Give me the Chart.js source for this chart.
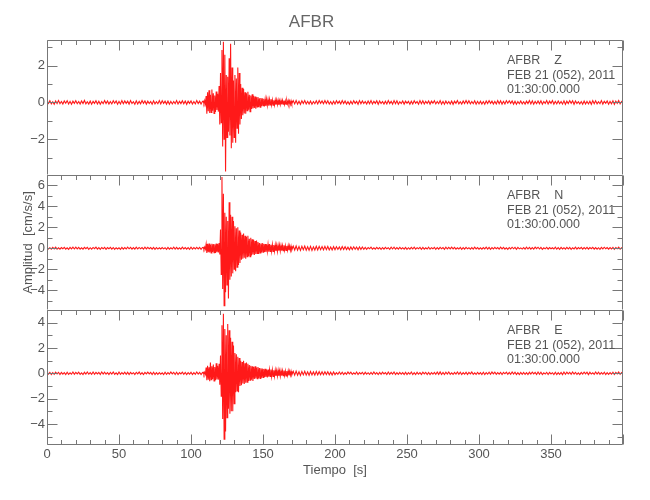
<!DOCTYPE html>
<html>
<head>
<meta charset="utf-8">
<script src="https://cdn.jsdelivr.net/npm/chart.js@4/dist/chart.umd.min.js"></script>
<style>
  body { margin: 0; background: #fff; }
  #wrap { position: relative; width: 650px; height: 500px; }
  .panel { position: absolute; left: 0; width: 650px; }
</style>
</head>
<body>
<div id="wrap">
  <div class="panel" style="top:0;height:175px"><canvas id="chartZ"></canvas></div>
  <div class="panel" style="top:175px;height:135px"><canvas id="chartN"></canvas></div>
  <div class="panel" style="top:310px;height:190px"><canvas id="chartE"></canvas></div>
</div>
<script>
//Station data
const estacion = "AFBR";
const fecha = "FEB 21 (052), 2011";
const hora = "01:30:00.000";
const componentes = ["Z", "N", "E"];

//Sampling of the traces [start, step] in seconds: quiet part, main burst, coda
const tPre = [0, 1];
const tBurst = [108.5, 0.5];
const tCoda = [171, 1];

//x ticks
const xMin = 0, xMax = 400, xStep = 10, xLabelEvery = 50;

//y limits per component
const limZ = [-3.95, 3.4];
const limN = [-5.9, 7.0];
const limE = [-5.66, 5.0];

//Z component
const zPre = [
  0.07,-0.05,0.09,-0.08,0.04,-0.1,0.08,-0.06,0.1,-0.07,
  0.05,-0.09,0.08,-0.04,0.1,-0.08,0.06,-0.1,0.07,-0.05,
  0.09,-0.07,0.05,-0.09,0.08,-0.06,0.11,-0.08,0.04,-0.09,
  0.08,-0.1,0.06,-0.05,0.09,-0.08,0.07,-0.1,0.05,-0.07,
  0.1,-0.06,0.08,-0.09,0.05,-0.08,0.09,-0.04,0.08,-0.1,
  0.06,-0.08,0.1,-0.07,0.08,-0.05,0.07,-0.09,0.1,-0.06,
  0.04,-0.1,0.09,-0.08,0.06,-0.07,0.1,-0.05,0.08,-0.09,
  0.07,-0.06,0.05,-0.1,0.09,-0.08,0.04,-0.07,0.1,-0.08,
  0.09,-0.05,0.07,-0.09,0.08,-0.1,0.06,-0.08,0.05,-0.07,
  0.1,-0.08,0.06,-0.06,0.09,-0.07,0.08,-0.1,0.07,-0.05,
  0.08,-0.09,0.05,-0.08,0.1,-0.06,0.07,-0.09,0.06,
];
const zBurst = [
  0.08,-0.06,0.1,-0.09,0.35,-0.62,0.55,-0.48,0.66,-0.58,
  0.42,-0.55,0.71,-0.45,0.5,-0.6,0.38,-0.52,0.6,-0.41,
  0.47,-0.5,0.9,-1.2,1.6,-1.1,2.85,-2.4,3.3,-2.0,
  2.6,-3.76,1.5,-1.9,1.4,-1.6,2.4,-1.8,3.2,-2.5,
  1.9,-2.2,1.2,-1.9,1.5,-2.2,1.3,-1.4,1.9,-1.7,
  1.6,-1.2,1.0,-0.9,0.8,-0.7,0.75,-0.6,0.55,-0.62,
  0.5,-0.45,0.58,-0.4,0.42,-0.5,0.38,-0.35,0.45,-0.33,
  0.36,-0.3,0.32,-0.34,0.28,-0.25,0.3,-0.24,0.22,-0.26,
  0.24,-0.2,0.22,-0.18,0.2,-0.22,0.17,-0.19,0.18,-0.16,
  0.15,-0.17,0.16,-0.14,0.18,-0.13,0.14,-0.15,0.12,-0.14,
  0.13,-0.12,0.14,-0.11,0.12,-0.13,0.1,-0.12,0.11,-0.1,
  0.12,-0.09,0.1,-0.11,0.09,-0.1,0.11,-0.08,0.1,-0.09,
  0.08,-0.1,0.09,-0.08,
];
const zCoda = [
  0.1,-0.08,0.11,-0.09,0.07,-0.1,0.09,-0.06,0.1,-0.08,
  0.06,-0.09,0.08,-0.1,0.05,-0.07,0.09,-0.08,0.1,-0.05,
  0.08,-0.07,0.1,-0.06,0.09,-0.09,0.05,-0.1,0.07,-0.08,
  0.09,-0.05,0.07,-0.08,0.1,-0.06,0.08,-0.09,0.04,-0.1,
  0.07,-0.08,0.09,-0.05,0.06,-0.1,0.1,-0.07,0.08,-0.06,
  0.05,-0.09,0.08,-0.07,0.1,-0.08,0.06,-0.05,0.09,-0.1,
  0.08,-0.06,0.05,-0.09,0.07,-0.08,0.1,-0.06,0.06,-0.09,
  0.1,-0.07,0.09,-0.1,0.04,-0.06,0.08,-0.09,0.07,-0.05,
  0.06,-0.1,0.07,-0.08,0.09,-0.05,0.05,-0.1,0.1,-0.07,
  0.09,-0.08,0.06,-0.06,0.08,-0.09,0.07,-0.04,0.09,-0.08,
  0.05,-0.07,0.1,-0.09,0.06,-0.1,0.08,-0.07,0.05,-0.09,
  0.08,-0.1,0.07,-0.05,0.1,-0.08,0.04,-0.09,0.08,-0.06,
  0.1,-0.06,0.09,-0.08,0.05,-0.07,0.09,-0.1,0.06,-0.08,
  0.07,-0.09,0.05,-0.1,0.08,-0.06,0.1,-0.05,0.07,-0.09,
  0.06,-0.08,0.1,-0.07,0.09,-0.09,0.06,-0.08,0.1,-0.04,
  0.09,-0.05,0.08,-0.09,0.07,-0.1,0.05,-0.07,0.08,-0.08,
  0.04,-0.09,0.07,-0.06,0.1,-0.08,0.09,-0.1,0.06,-0.07,
  0.08,-0.07,0.09,-0.1,0.05,-0.06,0.1,-0.08,0.07,-0.05,
  0.1,-0.09,0.06,-0.08,0.08,-0.07,0.05,-0.09,0.09,-0.1,
  0.07,-0.06,0.1,-0.05,0.09,-0.1,0.08,-0.06,0.04,-0.08,
  0.05,-0.1,0.08,-0.09,0.06,-0.08,0.07,-0.1,0.1,-0.07,
  0.09,-0.08,0.04,-0.07,0.1,-0.09,0.06,-0.05,0.08,-0.1,
  0.06,-0.07,0.09,-0.1,0.07,-0.05,0.1,-0.08,0.05,-0.09,
];

//N component
const nPre = [
  0.09,-0.07,0.05,-0.09,0.08,-0.06,0.11,-0.08,0.04,-0.09,
  0.07,-0.05,0.09,-0.08,0.04,-0.1,0.08,-0.06,0.1,-0.07,
  0.1,-0.06,0.08,-0.09,0.05,-0.08,0.09,-0.04,0.08,-0.1,
  0.05,-0.09,0.08,-0.04,0.1,-0.08,0.06,-0.1,0.07,-0.05,
  0.08,-0.1,0.06,-0.05,0.09,-0.08,0.07,-0.1,0.05,-0.07,
  0.04,-0.1,0.09,-0.08,0.06,-0.07,0.1,-0.05,0.08,-0.09,
  0.06,-0.08,0.1,-0.07,0.08,-0.05,0.07,-0.09,0.1,-0.06,
  0.09,-0.05,0.07,-0.09,0.08,-0.1,0.06,-0.08,0.05,-0.07,
  0.07,-0.06,0.05,-0.1,0.09,-0.08,0.04,-0.07,0.1,-0.08,
  0.08,-0.09,0.05,-0.08,0.1,-0.06,0.07,-0.09,0.06,-0.1,
  0.1,-0.08,0.06,-0.06,0.09,-0.07,0.08,-0.1,0.07,
];
const nBurst = [
  0.09,-0.1,0.12,-0.08,0.4,-0.45,0.42,-0.38,0.45,-0.4,
  0.35,-0.44,0.43,-0.36,0.4,-0.42,0.38,-0.45,0.44,-0.37,
  0.42,-0.4,0.5,-0.6,1.8,-2.5,6.8,-3.9,5.2,-5.5,
  3.4,-4.2,3.0,-3.5,2.6,-4.8,4.4,-3.0,3.2,-2.7,
  3.0,-2.4,2.6,-2.0,2.1,-2.2,1.9,-1.8,2.0,-1.6,
  1.7,-1.4,1.5,-1.1,1.3,-1.0,1.4,-0.9,1.2,-1.0,
  1.1,-0.8,1.2,-0.75,0.9,-0.8,1.0,-0.7,0.85,-0.6,
  0.8,-0.65,0.7,-0.55,0.75,-0.5,0.6,-0.55,0.5,-0.45,
  0.45,-0.4,0.5,-0.38,0.42,-0.35,0.4,-0.36,0.38,-0.3,
  0.36,-0.32,0.4,-0.3,0.33,-0.28,0.35,-0.3,0.3,-0.27,
  0.32,-0.26,0.28,-0.3,0.27,-0.24,0.3,-0.25,0.26,-0.22,
  0.25,-0.23,0.28,-0.2,0.24,-0.22,0.22,-0.2,0.25,-0.19,
  0.22,-0.2,0.2,-0.18,
];
const nCoda = [
  0.2,-0.17,0.22,-0.18,0.16,-0.21,0.19,-0.15,0.2,-0.18,
  0.15,-0.19,0.18,-0.2,0.14,-0.17,0.19,-0.16,0.18,-0.14,
  0.16,-0.15,0.18,-0.13,0.17,-0.16,0.12,-0.17,0.15,-0.14,
  0.14,-0.11,0.13,-0.15,0.16,-0.12,0.14,-0.13,0.1,-0.15,
  0.12,-0.13,0.14,-0.1,0.11,-0.14,0.13,-0.11,0.12,-0.1,
  0.08,-0.1,0.07,-0.05,0.1,-0.08,0.04,-0.09,0.08,-0.06,
  0.06,-0.1,0.07,-0.08,0.09,-0.05,0.05,-0.1,0.1,-0.07,
  0.1,-0.09,0.06,-0.08,0.08,-0.07,0.05,-0.09,0.09,-0.1,
  0.05,-0.09,0.08,-0.07,0.1,-0.08,0.06,-0.05,0.09,-0.1,
  0.09,-0.08,0.04,-0.07,0.1,-0.09,0.06,-0.05,0.08,-0.1,
  0.07,-0.08,0.09,-0.05,0.06,-0.1,0.1,-0.07,0.08,-0.06,
  0.1,-0.06,0.09,-0.08,0.05,-0.07,0.09,-0.1,0.06,-0.08,
  0.08,-0.06,0.05,-0.09,0.07,-0.08,0.1,-0.06,0.06,-0.09,
  0.04,-0.09,0.07,-0.06,0.1,-0.08,0.09,-0.1,0.06,-0.07,
  0.09,-0.05,0.07,-0.08,0.1,-0.06,0.08,-0.09,0.04,-0.1,
  0.07,-0.06,0.1,-0.05,0.09,-0.1,0.08,-0.06,0.04,-0.08,
  0.06,-0.08,0.1,-0.07,0.09,-0.09,0.06,-0.08,0.1,-0.04,
  0.1,-0.07,0.09,-0.1,0.04,-0.06,0.08,-0.09,0.07,-0.05,
  0.05,-0.07,0.1,-0.09,0.06,-0.1,0.08,-0.07,0.05,-0.09,
  0.08,-0.07,0.09,-0.1,0.05,-0.06,0.1,-0.08,0.07,-0.05,
  0.09,-0.08,0.06,-0.06,0.08,-0.09,0.07,-0.04,0.09,-0.08,
  0.07,-0.09,0.05,-0.1,0.08,-0.06,0.1,-0.05,0.07,-0.09,
  0.06,-0.07,0.09,-0.1,0.07,-0.05,0.1,-0.08,0.05,-0.09,
];

//E component
const ePre = [
  0.1,-0.06,0.08,-0.09,0.05,-0.08,0.09,-0.04,0.08,-0.1,
  0.07,-0.06,0.05,-0.1,0.09,-0.08,0.04,-0.07,0.1,-0.08,
  0.07,-0.05,0.09,-0.08,0.04,-0.1,0.08,-0.06,0.1,-0.07,
  0.06,-0.08,0.1,-0.07,0.08,-0.05,0.07,-0.09,0.1,-0.06,
  0.09,-0.07,0.05,-0.09,0.08,-0.06,0.11,-0.08,0.04,-0.09,
  0.1,-0.08,0.06,-0.06,0.09,-0.07,0.08,-0.1,0.07,-0.05,
  0.05,-0.09,0.08,-0.04,0.1,-0.08,0.06,-0.1,0.07,-0.05,
  0.09,-0.05,0.07,-0.09,0.08,-0.1,0.06,-0.08,0.05,-0.07,
  0.04,-0.1,0.09,-0.08,0.06,-0.07,0.1,-0.05,0.08,-0.09,
  0.08,-0.1,0.06,-0.05,0.09,-0.08,0.07,-0.1,0.05,-0.07,
  0.08,-0.09,0.05,-0.08,0.1,-0.06,0.07,-0.09,0.06,
];
const eBurst = [
  0.08,-0.1,0.09,-0.07,0.45,-0.55,0.6,-0.5,0.48,-0.62,
  0.85,-0.5,0.55,-0.45,0.7,-0.6,0.5,-0.55,0.8,-0.48,
  0.6,-0.5,0.75,-0.9,1.4,-1.8,3.8,-3.6,4.7,-5.2,
  3.5,-4.6,3.0,-3.5,3.9,-2.8,3.4,-3.2,2.8,-3.0,
  2.5,-3.0,2.2,-2.4,1.6,-1.5,1.5,-1.4,1.3,-1.5,
  1.2,-1.0,1.0,-0.95,0.9,-0.8,1.0,-0.85,0.8,-0.75,
  0.85,-0.7,0.75,-0.6,0.65,-0.55,0.6,-0.5,0.55,-0.6,
  0.5,-0.45,0.55,-0.4,0.45,-0.42,0.5,-0.38,0.42,-0.4,
  0.4,-0.35,0.38,-0.33,0.35,-0.3,0.36,-0.28,0.3,-0.32,
  0.3,-0.27,0.28,-0.25,0.3,-0.24,0.26,-0.25,0.24,-0.22,
  0.25,-0.2,0.22,-0.21,0.24,-0.2,0.2,-0.22,0.21,-0.18,
  0.2,-0.18,0.22,-0.17,0.19,-0.2,0.18,-0.16,0.2,-0.17,
  0.17,-0.15,0.16,-0.14,
];
const eCoda = [
  0.16,-0.14,0.17,-0.15,0.13,-0.16,0.15,-0.12,0.16,-0.14,
  0.12,-0.15,0.14,-0.13,0.11,-0.14,0.15,-0.12,0.13,-0.11,
  0.12,-0.11,0.13,-0.1,0.12,-0.12,0.09,-0.13,0.11,-0.1,
  0.06,-0.08,0.1,-0.07,0.09,-0.09,0.06,-0.08,0.1,-0.04,
  0.09,-0.08,0.04,-0.07,0.1,-0.09,0.06,-0.05,0.08,-0.1,
  0.08,-0.06,0.05,-0.09,0.07,-0.08,0.1,-0.06,0.06,-0.09,
  0.07,-0.08,0.09,-0.05,0.06,-0.1,0.1,-0.07,0.08,-0.06,
  0.1,-0.09,0.06,-0.08,0.08,-0.07,0.05,-0.09,0.09,-0.1,
  0.05,-0.07,0.1,-0.09,0.06,-0.1,0.08,-0.07,0.05,-0.09,
  0.09,-0.05,0.08,-0.09,0.07,-0.1,0.05,-0.07,0.08,-0.08,
  0.1,-0.08,0.11,-0.09,0.07,-0.1,0.09,-0.06,0.1,-0.08,
  0.04,-0.09,0.07,-0.06,0.1,-0.08,0.09,-0.1,0.06,-0.07,
  0.08,-0.1,0.07,-0.05,0.1,-0.08,0.04,-0.09,0.08,-0.06,
  0.06,-0.09,0.08,-0.1,0.05,-0.07,0.09,-0.08,0.1,-0.05,
  0.09,-0.08,0.06,-0.06,0.08,-0.09,0.07,-0.04,0.09,-0.08,
  0.08,-0.07,0.1,-0.06,0.09,-0.09,0.05,-0.1,0.07,-0.08,
  0.07,-0.09,0.05,-0.1,0.08,-0.06,0.1,-0.05,0.07,-0.09,
  0.1,-0.07,0.09,-0.1,0.04,-0.06,0.08,-0.09,0.07,-0.05,
  0.05,-0.1,0.08,-0.09,0.06,-0.08,0.07,-0.1,0.1,-0.07,
  0.09,-0.05,0.07,-0.08,0.1,-0.06,0.08,-0.09,0.04,-0.1,
  0.07,-0.06,0.1,-0.05,0.09,-0.1,0.08,-0.06,0.04,-0.08,
  0.1,-0.06,0.09,-0.08,0.05,-0.07,0.09,-0.1,0.06,-0.08,
  0.06,-0.07,0.09,-0.1,0.07,-0.05,0.1,-0.08,0.05,-0.09,
];

const fuente = "'Liberation Sans', Arial, sans-serif";
const gris = "#555";
Chart.defaults.font.family = fuente;
Chart.defaults.color = gris;

//joins the three sampled pieces into {x, y} points
const serie = (pre, burst, coda) => {
  const pts = [];
  [[tPre, pre], [tBurst, burst], [tCoda, coda]].forEach(([t, vals]) => {
    vals.forEach((v, i) => pts.push({ x: t[0] + i * t[1], y: v }));
  });
  return pts;
};

const menos = (v) => (v < 0 ? "\u2212" + -v : "" + v);

//frame with inward ticks, like the SAC plot
const marco = {
  id: "marco",
  afterDraw(chart, args, opts) {
    const { ctx, chartArea: a, scales } = chart;
    const L = a.left + 0.5, R = a.right - 0.5, T = a.top + 0.5, B = a.bottom - 0.5;
    ctx.save();
    ctx.strokeStyle = "#777";
    ctx.lineWidth = 1;
    ctx.beginPath();
    ctx.moveTo(L, B); ctx.lineTo(L, T); ctx.lineTo(R, T); ctx.lineTo(R, B);
    if (opts.bottom) { ctx.moveTo(L, B); ctx.lineTo(R, B); }
    scales.x.ticks.forEach((t) => {
      const px = Math.round(scales.x.getPixelForValue(t.value)) + 0.5;
      const len = t.value % xLabelEvery === 0 ? 10 : 4.5;
      ctx.moveTo(px, T); ctx.lineTo(px, T + len);
      if (opts.bottom) { ctx.moveTo(px, B); ctx.lineTo(px, B - len); }
    });
    scales.y.ticks.forEach((t) => {
      if (!Number.isInteger(t.value)) return;
      const py = Math.round(scales.y.getPixelForValue(t.value)) + 0.5;
      const len = t.value % 2 === 0 ? 10 : 5;
      ctx.moveTo(L, py); ctx.lineTo(L + len, py);
      ctx.moveTo(R, py); ctx.lineTo(R - len, py);
    });
    ctx.stroke();
    ctx.restore();
  },
};

//station / component / date text in the upper right of each panel
const rotulo = {
  id: "rotulo",
  afterDraw(chart, args, opts) {
    const { ctx, chartArea: a } = chart;
    ctx.save();
    ctx.font = "12.5px " + fuente;
    ctx.fillStyle = gris;
    opts.lines.forEach((s, i) => ctx.fillText(s, a.left + 460, a.top + 24 + i * 14.5));
    ctx.restore();
  },
};

const makePanel = (id, comp, pts, lim, extra) => {
  const last = !!extra.last;
  return new Chart(document.getElementById(id), {
    type: "line",
    data: {
      datasets: [
        {
          data: pts,
          borderColor: "rgba(255,0,0,0.9)",
          borderWidth: 1.1,
          pointRadius: 0,
          tension: 0,
        },
      ],
    },
    options: {
      responsive: true,
      maintainAspectRatio: false,
      animation: false,
      parsing: false,
      normalized: true,
      layout: { autoPadding: false, padding: { left: 0, right: 27, top: 0, bottom: 0 } },
      plugins: {
        legend: { display: false },
        tooltip: { enabled: false },
        title: extra.title
          ? {
              display: true,
              text: estacion,
              color: "#666",
              font: { size: 17, weight: "normal", family: fuente },
              padding: { top: 12, bottom: 7.6 },
            }
          : { display: false },
        marco: { bottom: last },
        rotulo: { lines: [estacion + "    " + comp, fecha, hora] },
      },
      scales: {
        x: {
          type: "linear",
          min: xMin,
          max: xMax,
          grid: { display: false, drawTicks: false },
          border: { display: false },
          ticks: {
            display: last,
            stepSize: xStep,
            autoSkip: false,
            maxRotation: 0,
            padding: 2,
            font: { size: 13 },
            callback: (v) => (v % xLabelEvery === 0 && v < xMax ? "" + v : ""),
          },
          title: last
            ? {
                display: true,
                text: "Tiempo  [s]",
                font: { size: 13 },
                padding: { top: 0, bottom: 22 },
              }
            : { display: false },
          afterFit: (s) => {
            s.height = last ? 55 : 0;
            s.paddingLeft = 0;
            s.paddingRight = 0;
          },
        },
        y: {
          min: lim[0],
          max: lim[1],
          grid: { display: false, drawTicks: false },
          border: { display: false },
          ticks: {
            stepSize: 1,
            includeBounds: false,
            autoSkip: false,
            padding: 2,
            font: { size: 13 },
            callback: (v) => (Number.isInteger(v) && v % 2 === 0 ? menos(v) : ""),
          },
          title: extra.ytitle
            ? {
                display: true,
                text: "Amplitud  [cm/s/s]",
                font: { size: 13 },
                padding: { top: 21, bottom: 0 },
              }
            : { display: false },
          afterFit: (s) => {
            s.width = 47;
            s.paddingTop = 0;
            s.paddingBottom = 0;
          },
        },
      },
    },
    plugins: [marco, rotulo],
  });
};

var chartZ = makePanel("chartZ", componentes[0], serie(zPre, zBurst, zCoda), limZ, { title: true });
var chartN = makePanel("chartN", componentes[1], serie(nPre, nBurst, nCoda), limN, { ytitle: true });
var chartE = makePanel("chartE", componentes[2], serie(ePre, eBurst, eCoda), limE, { last: true });
</script>
</body>
</html>
